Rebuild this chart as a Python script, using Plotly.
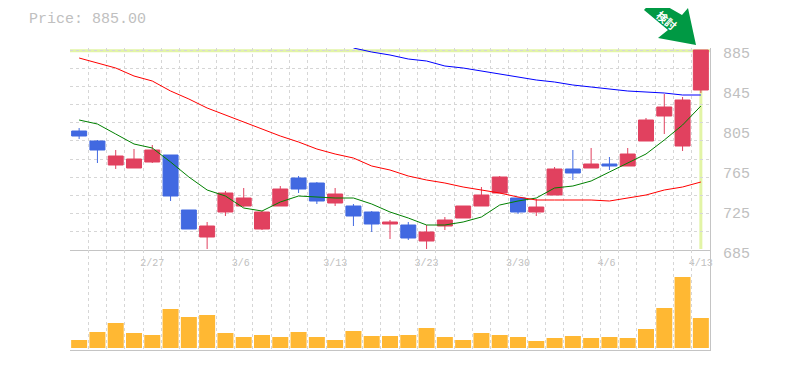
import plotly.graph_objects as go

# --- Data ---
open_ = [804,794,770,767,773,780,725,698,723,729,706,729,757,752,732,729,723,711,710,694,709,717,729,742,737,723,740,766,767,771,769,794,819,789,845]
high  = [807,795,785,786,790,780,725,713,744,747,724,749,759,753,747,731,724,715,713,710,718,729,748,759,737,736,768,785,787,778,787,817,841,838,885]
low   = [796,772,766,767,772,734,706,686,719,728,705,729,742,731,729,709,703,696,695,686,705,717,729,742,721,719,740,755,767,765,769,794,801,784,842]
close = [799,785,779,776,785,739,706,709,742,737,723,746,746,734,741,719,711,713,697,703,715,729,740,758,723,728,766,762,771,769,781,815,828,835,885]
ma_short = [815,811,801,791,787,773,758,745,739,727,724,733,739,738,737,737,731,723,717,710,710,713,718,730,734,737,747,749,754,763,772,781,795,810,829]
ma_mid   = [877,872,867,859,854,844,836,827,820,813,806,799,793,786,781,777,769,765,759,755,752,748,745,742,738,735,735,735,735,734,737,740,745,748,753]
ma_long  = [None]*15 + [887,883,880,876,874,869,867,864,861,858,855,853,850,848,846,844,843,842,840,840]
volume = [8,16,25,15,13,39,31,33,15,11,13,11,16,11,8,17,12,12,13,20,11,8,15,13,11,7,10,12,10,11,10,19,40,71,30]
tick_idx = [4,9,14,19,24,29,34]
tick_labels = ["2/27","3/6\u00a0","3/13","3/23","3/30","4/6\u00a0","4/13"]
price_ticks = [885,845,805,765,725,685]
last_price = 885.0
positions = list(range(len(close)))

# The page has an 8px body margin, so the figure is sized to fit the window inside it.
PAGE = 8
W, H = 785 - PAGE, 370 - PAGE
L, R, T, B = 70 - PAGE, 710 - PAGE, 48 - PAGE, 350 - PAGE
PANE = 100 / (B - T)          # volume pane share of the plot height
GRID = "#d6d6d6"
AXIS = "#c4c4c4"
TXT = "#c0c0c0"
MONO = "Liberation Mono"

def cx(x):  return (x - PAGE) / W
def cy(y):  return 1 - (y - PAGE) / H
def pax(x): return (x - PAGE - L) / (R - L)
def pay(y): return (B - (y - PAGE)) / (B - T)

fig = go.Figure()
fig.add_trace(go.Candlestick(
    x=positions, open=open_, high=high, low=low, close=close,
    xaxis="x", yaxis="y", whiskerwidth=0,
    increasing=dict(line=dict(color="#E1415F", width=1), fillcolor="#E1415F"),
    decreasing=dict(line=dict(color="#4169E1", width=1), fillcolor="#4169E1"),
    showlegend=False))
for vals, col in ((ma_short, "#008000"), (ma_mid, "#FF0000"), (ma_long, "#0000FF")):
    fig.add_trace(go.Scatter(x=positions, y=vals, mode="lines",
                             line=dict(color=col, width=1), xaxis="x", yaxis="y",
                             showlegend=False))
fig.add_trace(go.Bar(x=positions, y=volume, marker=dict(color="#FFB833", line=dict(width=0)),
                     xaxis="x2", yaxis="y2", showlegend=False))

minor_x = dict(tick0=-0.5, dtick=1, showgrid=True, gridcolor=GRID, griddash="3px,3px",
               gridwidth=1, ticklen=0)
fig.update_layout(
    width=W, height=H, autosize=False,
    margin=dict(l=L, r=W - R, t=T, b=H - B, pad=0, autoexpand=False),
    paper_bgcolor="white", plot_bgcolor="white",
    boxgap=0.18, boxgroupgap=0, bargap=0.125, showlegend=False,
    title=dict(text=f"Price: {last_price:.2f}", x=cx(29), xanchor="left", xref="container",
               y=cy(18), yanchor="middle", font=dict(family=MONO, size=15, color=TXT)),
    xaxis=dict(domain=[0, 1], range=[-0.5, 34.5], anchor="y", rangeslider=dict(visible=False),
               tickmode="array", tickvals=tick_idx, ticktext=tick_labels, ticks="", ticklen=0,
               showgrid=False, showline=True, linecolor=AXIS, linewidth=1, zeroline=False,
               ticklabelstandoff=3,
               tickfont=dict(family=MONO, size=10, color=TXT), minor=minor_x),
    xaxis2=dict(domain=[0, 1], range=[-0.5, 34.5], anchor="y2", matches="x", showticklabels=False,
                ticks="", showgrid=False, showline=True, linecolor=AXIS, linewidth=1,
                zeroline=False, minor=minor_x),
    yaxis=dict(domain=[PANE, 1], range=[685, 887], side="right", anchor="x",
               tickmode="array", tickvals=price_ticks, ticktext=[str(v) for v in price_ticks],
               ticks="", showgrid=False, zeroline=False, showline=True, linecolor=AXIS, linewidth=1,
               ticklabelstandoff=9, ticklabelshift=3,
               tickfont=dict(family=MONO, size=15, color=TXT),
               minor=dict(tick0=685, dtick=200/11, showgrid=True, gridcolor=GRID, griddash="3px,3px",
                          gridwidth=1, ticklen=0)),
    yaxis2=dict(domain=[0, PANE], range=[-2, 98], side="right", anchor="x2",
                showticklabels=False, ticks="", showgrid=False, zeroline=False,
                showline=True, linecolor=AXIS, linewidth=1),
)

# Crosshair on the latest candle
cross = "#E2F4A6"
fig.add_shape(type="line", xref="paper", yref="y", x0=0, x1=1, y0=last_price - 0.8, y1=last_price - 0.8,
              line=dict(color=cross, width=3), layer="below")
fig.add_shape(type="line", xref="x", yref="y", x0=positions[-1], x1=positions[-1], y0=686, y1=885,
              line=dict(color=cross, width=3), layer="below")

# Green callout arrow
arrow_px = [(696, 45), (658, 38), (668, 30), (644, 10), (654, -1), (682, 15), (688, 8)]
path = "M " + " L ".join(f"{pax(x):.5f},{pay(y):.5f}" for x, y in arrow_px) + " Z"
fig.add_shape(type="path", xref="paper", yref="paper", path=path,
              fillcolor="#009944", line=dict(width=0), layer="above")
fig.add_annotation(text="<b>検討</b>", xref="paper", yref="paper", x=pax(667), y=pay(20),
                   showarrow=False, textangle=40, xanchor="center", yanchor="middle",
                   borderpad=0, borderwidth=0,
                   font=dict(family="Noto Sans CJK JP", size=11, color="white"))

fig.write_html("out.html")
